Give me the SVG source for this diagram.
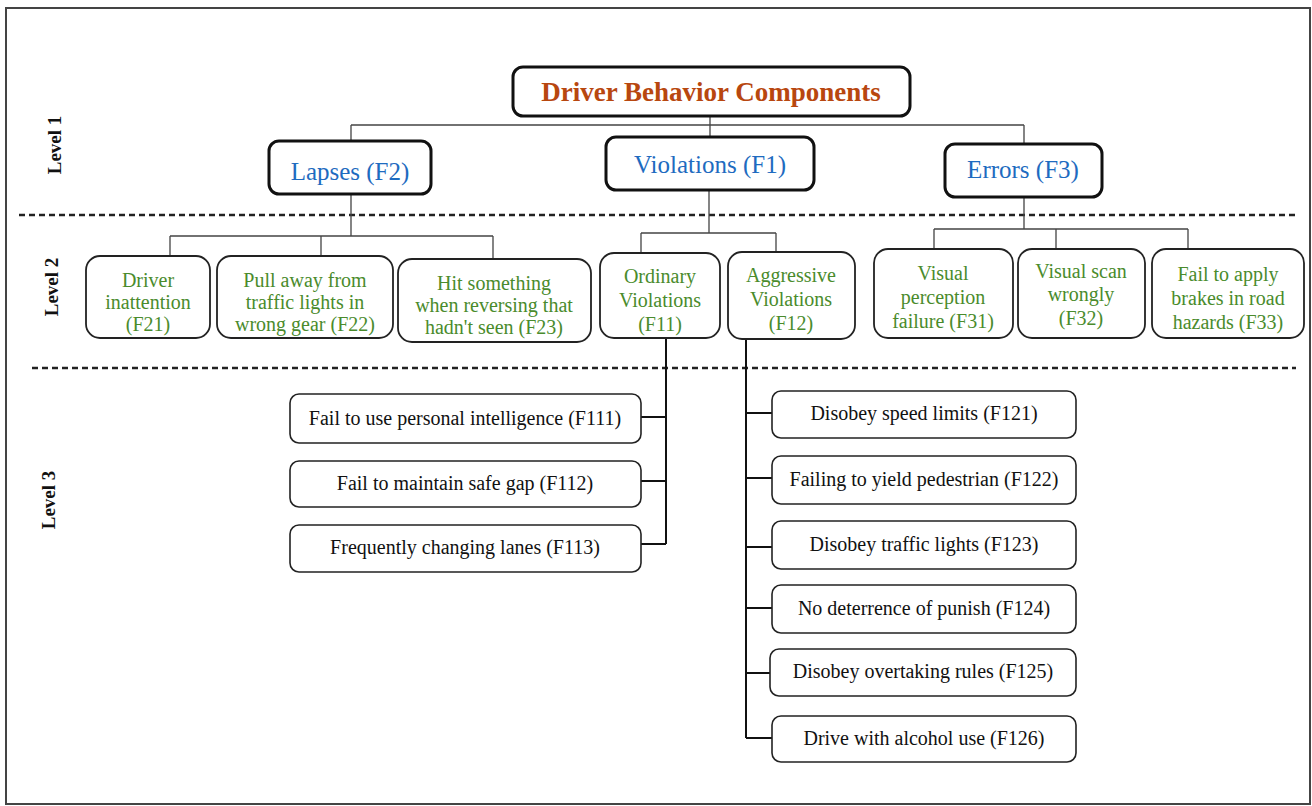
<svg xmlns="http://www.w3.org/2000/svg" width="1312" height="806" viewBox="0 0 1312 806">
<style>
.t{font-family:"Liberation Serif","Times New Roman",serif;text-anchor:middle}
.b1{fill:#fff;stroke:#111;stroke-width:3}
.b2{fill:#fff;stroke:#222;stroke-width:1.8}
.b3{fill:#fff;stroke:#222;stroke-width:1.6}
.title{font-size:27px;font-weight:bold;fill:#B8470F}
.l1{font-size:25px;fill:#1E6BC0}
.l2{font-size:20px;fill:#4A8B2C}
.l3{font-size:20px;fill:#111}
.lvl{font-size:19px;font-weight:bold;fill:#111}
.thin{fill:none;stroke:#444;stroke-width:1.3}
.thick{fill:none;stroke:#111;stroke-width:2}
.dash{stroke:#222;stroke-width:2.5;stroke-dasharray:6 4}
</style>
<rect x="0" y="0" width="1312" height="806" fill="#fff"/>
<rect x="6" y="8" width="1304" height="796" fill="none" stroke="#444" stroke-width="2"/>
<g id="guides">
<line class="dash" x1="19" y1="215" x2="1296" y2="215"/>
<line class="dash" x1="32" y1="368" x2="1296" y2="368"/>
<text class="t lvl" transform="translate(61,145) rotate(-90)">Level 1</text>
<text class="t lvl" transform="translate(58,287) rotate(-90)">Level 2</text>
<text class="t lvl" transform="translate(55,500) rotate(-90)">Level 3</text>
</g>
<g id="connectors">
<path class="thin" d="M710,116V125M351,125H1024M351,125V141M710,125V137M1024,125V144"/>
<path class="thin" d="M351,194V236M170,236H493M170,236V256M321,236V256M493,236V259"/>
<path class="thin" d="M709,190V233M641,233H776M641,233V253M776,233V252"/>
<path class="thin" d="M1024,197V229M934,229H1188M934,229V249M1056,229V249M1188,229V249"/>
<path class="thick" d="M666,338V544M641,417H666M641,481H666M641,544H666"/>
<path class="thick" d="M746,339V738M746,413H772M746,478H772M746,547H772M746,608H772M746,673H770M746,738H772"/>
</g>
<g id="root"><rect class="b1" x="513" y="67" width="397" height="49" rx="10"/><text class="t title" x="711" y="101">Driver Behavior Components</text></g>
<g id="F2"><rect class="b1" x="269" y="141" width="162" height="53" rx="10"/><text class="t l1" x="350" y="180">Lapses (F2)</text></g>
<g id="F1"><rect class="b1" x="606" y="137" width="208" height="53" rx="10"/><text class="t l1" x="710" y="173">Violations (F1)</text></g>
<g id="F3"><rect class="b1" x="945" y="144" width="157" height="53" rx="10"/><text class="t l1" x="1023" y="178">Errors (F3)</text></g>
<g id="F21"><rect class="b2" x="86" y="256" width="124" height="82" rx="14"/><text class="t l2" x="148" y="287">Driver</text><text class="t l2" x="148" y="309">inattention</text><text class="t l2" x="148" y="331">(F21)</text></g>
<g id="F22"><rect class="b2" x="217" y="256" width="176" height="82" rx="14"/><text class="t l2" x="305" y="287">Pull away from</text><text class="t l2" x="305" y="309">traffic lights in</text><text class="t l2" x="305" y="331">wrong gear (F22)</text></g>
<g id="F23"><rect class="b2" x="398" y="259" width="193" height="83" rx="14"/><text class="t l2" x="494" y="290">Hit something</text><text class="t l2" x="494" y="312">when reversing that</text><text class="t l2" x="494" y="334">hadn't seen (F23)</text></g>
<g id="F11"><rect class="b2" x="600" y="253" width="120" height="85" rx="14"/><text class="t l2" x="660" y="283">Ordinary</text><text class="t l2" x="660" y="307">Violations</text><text class="t l2" x="660" y="331">(F11)</text></g>
<g id="F12"><rect class="b2" x="728" y="252" width="127" height="87" rx="14"/><text class="t l2" x="791" y="282">Aggressive</text><text class="t l2" x="791" y="306">Violations</text><text class="t l2" x="791" y="330">(F12)</text></g>
<g id="F31"><rect class="b2" x="874" y="249" width="139" height="89" rx="14"/><text class="t l2" x="943" y="280">Visual</text><text class="t l2" x="943" y="304">perception</text><text class="t l2" x="943" y="328">failure (F31)</text></g>
<g id="F32"><rect class="b2" x="1018" y="249" width="127" height="89" rx="14"/><text class="t l2" x="1081" y="278">Visual scan</text><text class="t l2" x="1081" y="301">wrongly</text><text class="t l2" x="1081" y="325">(F32)</text></g>
<g id="F33"><rect class="b2" x="1152" y="249" width="152" height="89" rx="14"/><text class="t l2" x="1228" y="281">Fail to apply</text><text class="t l2" x="1228" y="305">brakes in road</text><text class="t l2" x="1228" y="329">hazards (F33)</text></g>
<g id="F111"><rect class="b3" x="290" y="394" width="351" height="49" rx="9"/><text class="t l3" x="465" y="425">Fail to use personal intelligence (F111)</text></g>
<g id="F112"><rect class="b3" x="290" y="461" width="351" height="46" rx="9"/><text class="t l3" x="465" y="490">Fail to maintain safe gap (F112)</text></g>
<g id="F113"><rect class="b3" x="290" y="525" width="351" height="47" rx="9"/><text class="t l3" x="465" y="554">Frequently changing lanes (F113)</text></g>
<g id="F121"><rect class="b3" x="772" y="391" width="304" height="47" rx="9"/><text class="t l3" x="924" y="420">Disobey speed limits (F121)</text></g>
<g id="F122"><rect class="b3" x="772" y="456" width="304" height="48" rx="9"/><text class="t l3" x="924" y="486">Failing to yield pedestrian (F122)</text></g>
<g id="F123"><rect class="b3" x="772" y="521" width="304" height="48" rx="9"/><text class="t l3" x="924" y="551">Disobey traffic lights (F123)</text></g>
<g id="F124"><rect class="b3" x="772" y="585" width="304" height="48" rx="9"/><text class="t l3" x="924" y="615">No deterrence of punish (F124)</text></g>
<g id="F125"><rect class="b3" x="770" y="649" width="306" height="47" rx="9"/><text class="t l3" x="923" y="678">Disobey overtaking rules (F125)</text></g>
<g id="F126"><rect class="b3" x="772" y="716" width="304" height="46" rx="9"/><text class="t l3" x="924" y="745">Drive with alcohol use (F126)</text></g>
</svg>
